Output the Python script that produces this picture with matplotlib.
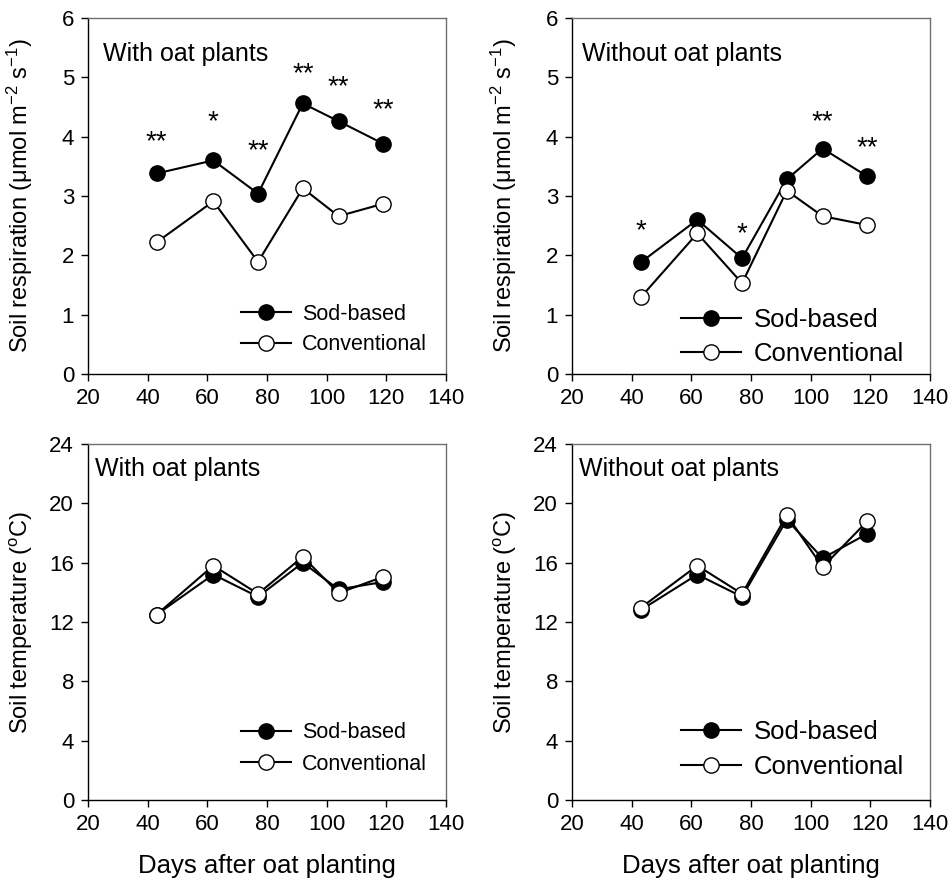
import matplotlib
matplotlib.use("Agg")
import matplotlib.pyplot as plt

plt.rcParams['font.family'] = ['Liberation Sans', 'DejaVu Sans']
plt.rcParams['mathtext.fontset'] = 'custom'
plt.rcParams['mathtext.rm'] = 'Liberation Sans'
plt.rcParams['mathtext.it'] = 'Liberation Sans:italic'

days = [43, 62, 77, 92, 104, 119]

resp_with_sod = [3.38, 3.60, 3.04, 4.56, 4.26, 3.88]
resp_with_conv = [2.22, 2.91, 1.89, 3.13, 2.66, 2.87]
resp_without_sod = [1.88, 2.60, 1.95, 3.28, 3.80, 3.33]
resp_without_conv = [1.29, 2.37, 1.53, 3.09, 2.66, 2.51]

temp_with_sod = [12.5, 15.2, 13.7, 16.0, 14.2, 14.7]
temp_with_conv = [12.5, 15.8, 13.9, 16.4, 13.95, 15.05]
temp_without_sod = [12.8, 15.2, 13.7, 18.9, 16.3, 17.95]
temp_without_conv = [12.95, 15.8, 13.9, 19.2, 15.7, 18.8]

# significance marks: (day, y, text)
sig_with = [(43, 3.9, '**'), (62, 4.25, '*'), (77, 3.75, '**'),
            (92, 5.05, '**'), (104, 4.83, '**'), (119, 4.45, '**')]
sig_without = [(43, 2.4, '*'), (77, 2.35, '*'), (104, 4.25, '**'), (119, 3.8, '**')]

fig = plt.figure(figsize=(9.52, 8.81), dpi=100)

w = 358 / 952
h = 356 / 881
lefts = [88 / 952, 572 / 952]
bottoms = [1 - 374 / 881, 1 - 800 / 881]


def draw_panel(ax, sod, conv, title, title_xy, ylim, yticks, ylabel, legend_fs, legend_loc,
               spacing, xlabel=False, sig=None):
    ax.plot(days, sod, '-o', color='black', mfc='black', mec='black', ms=11, lw=1.5,
            label='Sod-based', zorder=3)
    ax.plot(days, conv, '-o', color='black', mfc='white', mec='black', ms=11, lw=1.5,
            label='Conventional', zorder=4)
    ax.set_xlim(20, 140)
    ax.set_ylim(*ylim)
    ax.set_xticks(range(20, 141, 20))
    ax.set_yticks(yticks)
    ax.tick_params(labelsize=16, direction='out', length=5, width=1, top=False, right=False, pad=5)
    for s in ax.spines.values():
        s.set_linewidth(1)
    ax.spines['top'].set_color('#707070')
    ax.spines['right'].set_color('#707070')
    ax.text(title_xy[0], title_xy[1], title, transform=ax.transAxes, fontsize=18, va='top', ha='left')
    ax.set_ylabel(ylabel, fontsize=17)
    ax.yaxis.set_label_coords(-0.148, 0.5)
    if xlabel:
        ax.set_xlabel('Days after oat planting', fontsize=18.5, labelpad=14)
    if sig:
        for d, y, t in sig:
            ax.text(d, y, t, fontsize=20, ha='center', va='center')
    ax.legend(loc='lower right', bbox_to_anchor=legend_loc, frameon=False, fontsize=legend_fs,
              handlelength=2.3, handletextpad=0.5, labelspacing=spacing, borderaxespad=0)


resp_label = 'Soil respiration (μmol m$^{-2}$ s$^{-1}$)'
temp_label = 'Soil temperature ($^{\\mathrm{o}}$C)'

ax1 = fig.add_axes([lefts[0], bottoms[0], w, h])
draw_panel(ax1, resp_with_sod, resp_with_conv, 'With oat plants', (0.042, 0.933), (0, 6), range(0, 7),
           resp_label, 15.5, (0.97, 0.028), 0.45, sig=sig_with)

ax2 = fig.add_axes([lefts[1], bottoms[0], w, h])
draw_panel(ax2, resp_without_sod, resp_without_conv, 'Without oat plants', (0.028, 0.933), (0, 6),
           range(0, 7), resp_label, 18.5, (0.955, -0.006), 0.38, sig=sig_without)

ax3 = fig.add_axes([lefts[0], bottoms[1], w, h])
draw_panel(ax3, temp_with_sod, temp_with_conv, 'With oat plants', (0.02, 0.963), (0, 24),
           range(0, 25, 4), temp_label, 15.5, (0.97, 0.047), 0.48, xlabel=True)

ax4 = fig.add_axes([lefts[1], bottoms[1], w, h])
draw_panel(ax4, temp_without_sod, temp_without_conv, 'Without oat plants', (0.02, 0.963), (0, 24),
           range(0, 25, 4), temp_label, 18.5, (0.955, 0.031), 0.42, xlabel=True)

fig.savefig('out.png', dpi=100)
